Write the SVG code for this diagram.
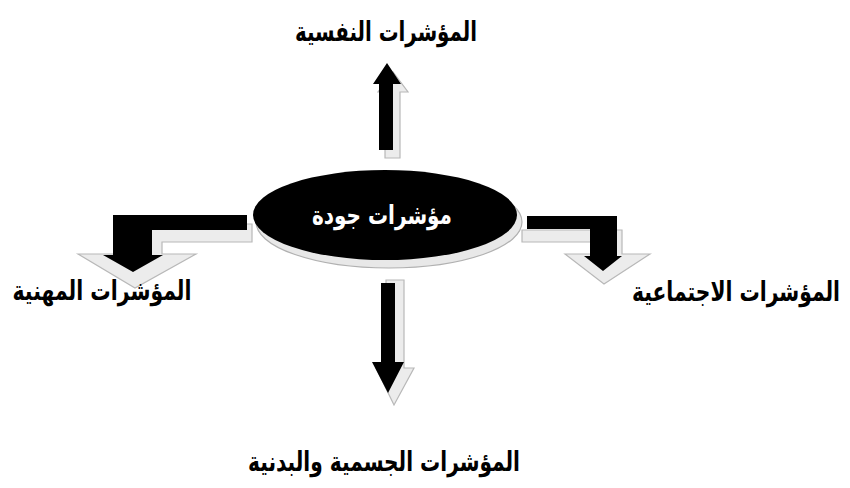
<svg xmlns="http://www.w3.org/2000/svg" width="850" height="488" viewBox="0 0 850 488">
<style>
.lbl{font-family:"DejaVu Sans",sans-serif;font-weight:bold;font-size:27px;fill:#000;text-anchor:middle}
.ctr{font-family:"DejaVu Sans",sans-serif;font-weight:bold;font-size:26px;fill:#fff;text-anchor:middle}
.shd{fill:#ececec;stroke:#b8b8b8;stroke-width:1.2}
.blk{fill:#000}
</style>
<rect width="850" height="488" fill="#fff"/>
<g id="connectors">
<g id="arrow-up">
<polygon class="shd" points="385,158 400,158 400,92 408,92 393,72 378,92 385,92"/>
<polygon class="blk" points="379,150 393,150 393,84 401,84 387,63 373,84 379,84"/>
</g>
<g id="arrow-down">
<polygon class="shd" points="386,280 404,280 404,368 414,368 394,405 376,368 386,368"/>
<polygon class="blk" points="381,283 395,283 395,362 404,362 388,393 372,362 381,362"/>
</g>
<g id="arrow-left">
<polygon class="shd" points="252,224 252,242 162,242 162,254 196,254 135,288 78,254 118,254 118,224"/>
<polygon class="blk" points="247,215 113,215 113,255 103,255 133,272 163,255 152,255 152,230 247,230"/>
</g>
<g id="arrow-right">
<polygon class="shd" points="522,230 622,230 622,254 650,254 604,284 565,254 592,254 592,242 522,242"/>
<polygon class="blk" points="527,216 617,216 617,256 622,256 603,271 584,256 590,256 590,229 527,229"/>
</g>
</g>
<g id="center">
<ellipse cx="389" cy="222" rx="133" ry="46" fill="#e8e8e8" stroke="#b0b0b0" stroke-width="1.2"/>
<ellipse cx="385" cy="215" rx="132" ry="45" fill="#000"/>
<text class="ctr" x="382" y="224" textLength="140" lengthAdjust="spacingAndGlyphs">مؤشرات جودة</text>
</g>
<g id="top"><text class="lbl" x="386" y="41" textLength="182" lengthAdjust="spacingAndGlyphs">المؤشرات النفسية</text></g>
<g id="left"><text class="lbl" x="102" y="300" textLength="179" lengthAdjust="spacingAndGlyphs">المؤشرات المهنية</text></g>
<g id="right"><text class="lbl" x="632" y="301" style="text-anchor:start" textLength="208" lengthAdjust="spacingAndGlyphs">المؤشرات الاجتماعية</text></g>
<g id="bottom"><text class="lbl" x="384" y="471" textLength="272" lengthAdjust="spacingAndGlyphs">المؤشرات الجسمية والبدنية</text></g>
</svg>
